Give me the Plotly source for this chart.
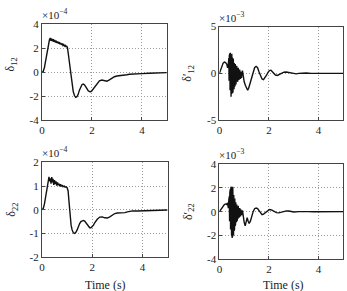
import plotly.graph_objects as go

W, H = 347, 291

# ---------------- data ----------------
# delta_12  (x 1e-4)
t_d12 = [0, 0.05, 0.1, 0.15, 0.2, 0.25, 0.3, 0.33, 0.36, 0.39, 0.42, 0.45, 0.48, 0.51, 0.54,
         0.57, 0.60, 0.63, 0.66, 0.69, 0.72, 0.75, 0.78, 0.81, 0.84, 0.87, 0.90, 0.93, 0.96,
         0.99, 1.02, 1.05, 1.1, 1.15, 1.2, 1.25, 1.3, 1.35, 1.4, 1.45, 1.5, 1.55, 1.6, 1.65,
         1.7, 1.75, 1.8, 1.85, 1.9, 1.95, 2.0, 2.05, 2.1, 2.2, 2.3, 2.4, 2.5, 2.6, 2.7, 2.8,
         2.9, 3.0, 3.1, 3.2, 3.3, 3.4, 3.5, 3.6, 3.8, 4.0, 4.3, 4.6, 5.0]
v_d12 = [0, 0.05, 0.4, 1.0, 1.7, 2.3, 2.7, 2.85, 2.62, 2.8, 2.58, 2.74, 2.53, 2.68, 2.48,
         2.62, 2.43, 2.56, 2.38, 2.5, 2.33, 2.44, 2.28, 2.38, 2.23, 2.31, 2.18, 2.24, 2.13,
         2.16, 2.05, 1.6, 0.7, -0.3, -1.1, -1.6, -1.95, -2.1, -2.05, -1.85, -1.5, -1.2, -1.05,
         -1.0, -1.05, -1.2, -1.4, -1.55, -1.62, -1.63, -1.55, -1.4, -1.25, -0.95, -0.72, -0.66,
         -0.72, -0.75, -0.65, -0.5, -0.38, -0.32, -0.3, -0.3, -0.28, -0.22, -0.17, -0.15,
         -0.13, -0.12, -0.09, -0.06, -0.04]

# delta'_12  (x 1e-3)
t_dp12 = [0, 0.05, 0.1, 0.15, 0.2, 0.25, 0.3, 0.33,
          0.36, 0.37, 0.38, 0.39, 0.40, 0.41, 0.42, 0.43, 0.44, 0.45, 0.46, 0.47, 0.48, 0.49,
          0.50, 0.51, 0.52, 0.53, 0.54, 0.55, 0.56, 0.57, 0.58, 0.59, 0.60, 0.61, 0.62, 0.63,
          0.64, 0.65, 0.66, 0.67, 0.68, 0.69, 0.70, 0.71, 0.72, 0.73, 0.74, 0.75, 0.76, 0.77,
          0.78, 0.79, 0.80, 0.81, 0.82, 0.83, 0.84, 0.85, 0.86, 0.87, 0.88, 0.89, 0.90,
          0.93, 0.96, 1.0, 1.05, 1.1, 1.14, 1.18, 1.24, 1.3, 1.36, 1.42, 1.48, 1.54, 1.6, 1.66,
          1.72, 1.78, 1.84, 1.9, 1.96, 2.02, 2.08, 2.14, 2.2, 2.26, 2.34, 2.42, 2.5, 2.6, 2.7,
          2.8, 2.9, 3.0, 3.1, 3.2, 3.35, 3.5, 3.7, 3.9, 4.2, 4.6, 5.0]
v_dp12 = [0, 0.4, 0.85, 1.1, 1.2, 1.15, 0.95, 0.6,
          1.0, -0.2, 1.6, -0.8, 1.9, -1.2, 2.1, -1.8, 2.2, -2.3, 2.0, -2.5, 1.8, -2.2,
          2.1, -2.0, 1.7, -2.1, 1.5, -1.9, 1.6, -1.6, 1.2, -1.7, 1.1, -1.4, 0.9, -1.3,
          1.0, -1.1, 0.7, -1.2, 0.6, -0.9, 0.8, -0.8, 0.5, -0.9, 0.4, -0.6, 0.6, -0.5,
          0.3, -0.7, 0.2, -0.4, 0.4, -0.5, 0.1, -0.6, 0.2, -0.3, 0.0, -0.5, -0.2,
          0.3, -0.6, -0.9, -1.3, -1.7, -1.8, -1.6, -1.0, -0.3, 0.2, 0.6, 0.75, 0.6, 0.15, -0.3,
          -0.6, -0.68, -0.5, -0.2, 0.1, 0.3, 0.34, 0.2, 0.0, -0.18, -0.22, -0.12, 0.02, 0.12, 0.15,
          0.1, -0.02, -0.06, -0.05, 0.0, 0.04, 0.04, 0.0, 0.0, 0.01, 0.0, 0.0]

# delta_22  (x 1e-4)
t_d22 = [0, 0.05, 0.1, 0.15, 0.2, 0.25, 0.28, 0.31, 0.34, 0.36, 0.39, 0.42, 0.44, 0.47, 0.5,
         0.53, 0.56, 0.59, 0.62, 0.65, 0.68, 0.71, 0.74, 0.77, 0.8, 0.84, 0.88, 0.92, 0.96,
         1.0, 1.04, 1.08, 1.12, 1.16, 1.2, 1.25, 1.3, 1.35, 1.4, 1.45, 1.5, 1.55, 1.6, 1.65,
         1.7, 1.75, 1.8, 1.85, 1.9, 1.95, 2.0, 2.05, 2.1, 2.2, 2.3, 2.4, 2.5, 2.6, 2.7, 2.8,
         2.9, 3.0, 3.1, 3.2, 3.3, 3.4, 3.5, 3.6, 3.8, 4.0, 4.3, 4.6, 5.0]
v_d22 = [0, 0.05, 0.25, 0.6, 0.95, 1.25, 1.38, 1.2, 1.32, 1.1, 1.38, 1.15, 1.3, 1.05, 1.25,
         1.08, 1.2, 1.02, 1.15, 1.03, 1.1, 0.99, 1.07, 0.98, 1.04, 0.97, 1.0, 0.95, 0.97,
         0.93, 0.8, 0.3, -0.3, -0.65, -0.85, -0.97, -1.0, -0.95, -0.85, -0.7, -0.58, -0.5,
         -0.46, -0.45, -0.48, -0.56, -0.65, -0.72, -0.76, -0.76, -0.72, -0.65, -0.55, -0.4,
         -0.31, -0.3, -0.34, -0.35, -0.3, -0.22, -0.16, -0.14, -0.14, -0.13, -0.12, -0.09,
         -0.07, -0.05, -0.05, -0.04, -0.03, -0.02, -0.01]

# delta'_22  (x 1e-3)
t_dp22 = [0, 0.05, 0.1, 0.15, 0.2, 0.25, 0.3, 0.33, 0.36,
          0.38, 0.39, 0.40, 0.41, 0.42, 0.43, 0.44, 0.45, 0.46, 0.47, 0.48, 0.49, 0.50, 0.51,
          0.52, 0.53, 0.54, 0.55, 0.56, 0.57, 0.58, 0.59, 0.60, 0.61, 0.62, 0.63, 0.64, 0.65,
          0.66, 0.67, 0.68, 0.69, 0.70, 0.71, 0.72, 0.73, 0.74, 0.75, 0.76, 0.77, 0.78, 0.79,
          0.80, 0.81, 0.82, 0.83, 0.84, 0.85, 0.86, 0.87, 0.88, 0.9,
          0.93, 0.96, 1.0, 1.04, 1.08, 1.12, 1.16, 1.2, 1.25, 1.3, 1.36, 1.42, 1.48, 1.54, 1.6,
          1.66, 1.72, 1.78, 1.86, 1.94, 2.02, 2.1, 2.2, 2.3, 2.4, 2.5, 2.6, 2.7, 2.8, 2.9, 3.0,
          3.2, 3.4, 3.6, 3.8, 4.2, 4.6, 5.0]
v_dp22 = [0, 0.15, 0.35, 0.5, 0.6, 0.65, 0.6, 0.75, 0.3,
          1.0, -0.4, 1.3, -0.8, 1.6, -1.2, 1.9, -1.5, 2.0, -1.8, 2.1, -2.0, 2.05, -2.2,
          1.9, -2.1, 2.1, -1.9, 1.6, -2.0, 1.4, -1.6, 1.2, -1.5, 1.1, -1.2, 0.9, -1.1,
          0.8, -0.9, 0.7, -0.8, 0.6, -0.8, 0.5, -0.6, 0.4, -0.6, 0.5, -0.4, 0.3, -0.5,
          0.2, -0.4, 0.3, -0.3, 0.1, -0.4, 0.2, -0.2, 0.0, -0.3,
          0.1, -0.5, -0.9, -1.2, -0.9, -0.5, -0.8, -1.0, -0.8, -0.3, 0.0, 0.25, 0.3, 0.25, 0.05,
          -0.15, -0.25, -0.2, -0.05, 0.1, 0.18, 0.15, 0.05, -0.08, -0.1, -0.05, 0.02, 0.06, 0.05,
          0.0, -0.03, 0.0, 0.03, 0.0, -0.01, 0.0, 0.0, 0.0]

x_ticks = [0, 2, 4]
y_ticks_12 = [-4, -2, 0, 2, 4]
y_ticks_p12 = [-5, 0, 5]
y_ticks_22 = [-2, -1, 0, 1, 2]
y_ticks_p22 = [-4, -2, 0, 2, 4]
y_labels = ["δ<sub>12</sub>", "δ′<sub>12</sub>", "δ<sub>22</sub>", "δ′<sub>22</sub>"]
exp_labels = ["×10<sup>−4</sup>", "×10<sup>−3</sup>", "×10<sup>−4</sup>", "×10<sup>−3</sup>"]
x_title = "Time (s)"

# ---------------- layout ----------------
def px(p):
    return p / W

def py(p):
    return 1 - p / H

FONT = "Liberation Serif"
TXT = "#222"
AX = "#444"

panels = [
    # (t, v, yticks, x0, x1, ytop, ybot)
    (t_d12, v_d12, y_ticks_12, 39.3, 165.3, 19, 119),
    (t_dp12, v_dp12, y_ticks_p12, 218.3, 343.3, 21.5, 119),
    (t_d22, v_d22, y_ticks_22, 39.3, 166, 163, 262),
    (t_dp22, v_dp22, y_ticks_p22, 218.3, 343.3, 165, 264),
]

fig = go.Figure()
layout = dict(
    width=W, height=H, margin=dict(l=0, r=0, t=0, b=0),
    paper_bgcolor="white", plot_bgcolor="white", showlegend=False,
    font=dict(family=FONT, size=11, color=TXT),
)
annotations = []
for i, (t, v, yt, x0, x1, yt_px, yb_px) in enumerate(panels):
    k = "" if i == 0 else str(i + 1)
    fig.add_trace(go.Scatter(x=t, y=v, mode="lines", xaxis="x" + k, yaxis="y" + k,
                             line=dict(color="#111", width=1.4), hoverinfo="skip"))
    common = dict(showgrid=True, griddash="1px,2px", gridcolor="#9a9a9a", gridwidth=1,
                  showline=True, linecolor=AX, linewidth=1, mirror=True,
                  ticks="inside", ticklen=3, tickcolor=AX, zeroline=False,
                  tickfont=dict(family=FONT, size=11, color=TXT))
    layout["xaxis" + k] = dict(common, domain=[px(x0), px(x1)], range=[0, 5],
                               tickvals=x_ticks, ticktext=[str(x) for x in x_ticks],
                               anchor="y" + k)
    layout["yaxis" + k] = dict(common, domain=[py(yb_px), py(yt_px)],
                               range=[yt[0], yt[-1]], tickvals=yt,
                               ticktext=[str(y) for y in yt],
                               anchor="x" + k)
    # exponent label
    annotations.append(dict(x=px(x0 - 2), y=py(yt_px - 1), xref="paper", yref="paper",
                            xanchor="left", yanchor="bottom", showarrow=False,
                            text=exp_labels[i], font=dict(family=FONT, size=11, color=TXT)))
    # y-axis label
    lx = 9 if i % 2 == 0 else 187
    ly = (yt_px + yb_px) / 2 - (8 if i == 0 else 0)
    annotations.append(dict(x=px(lx), y=py(ly), xref="paper", yref="paper",
                            xanchor="center", yanchor="middle", showarrow=False,
                            textangle=-90, text=y_labels[i],
                            font=dict(family=FONT, size=12, color=TXT)))

for cx in (103, 283):
    annotations.append(dict(x=px(cx), y=py(282), xref="paper", yref="paper",
                            xanchor="center", yanchor="top", showarrow=False,
                            text=x_title, font=dict(family=FONT, size=12, color=TXT)))

layout["annotations"] = annotations
fig.update_layout(**layout)
fig.write_html("out.html")
